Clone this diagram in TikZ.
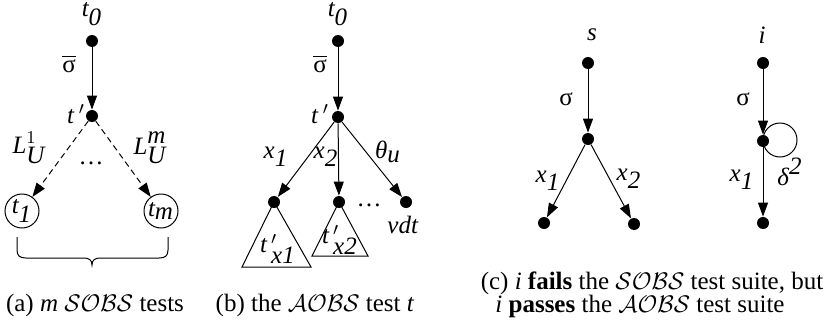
\documentclass[tikz,border=0pt]{standalone}
\usepackage{fontspec}
\setmainfont{Liberation Serif}
\usetikzlibrary{arrows.meta}
\tikzset{
  dot/.style = {circle, fill = black, inner sep = 0pt, minimum size = 6pt},
  state/.style = {circle, draw, line width = 0.5pt, inner sep = 0pt, minimum size = 17pt},
  tr/.style = {-{Triangle[length = 7pt, width = 5pt]}, line width = 0.5pt},
  dsh/.style = {dash pattern = on 3pt off 2pt},
  lab/.style = {inner sep = 0pt},
  captxt/.style = {inner sep = 0pt, font = \fontsize{12.5}{15}\selectfont},
}
\newcommand{\tsub}[2]{$\textit{#1}_{\textit{#2}}$}
\newcommand{\sigbar}{$\overline{\hbox{σ}}$}
\begin{document}
\begin{tikzpicture}[x = 0.5pt, y = -0.5pt, font = \fontsize{12.5}{15}\selectfont]
\useasboundingbox (0,0) rectangle (839,332);
% (a) m SOBS tests
\node [dot] (a0) at (92,41) {};
\node [dot] (a1) at (92,116) {};
\node [state] (t1) at (22,211) {\tsub{t}{1}};
\node [state] (tm) at (161,211) {\tsub{t}{m}};
\node [lab] (a0l) at (92,14) {\tsub{t}{0}};
\node [lab] (a1l) at (76,114) {\textit{t}\,$'$};
\node [lab] (asig) at (69,64) {\sigbar};
\node [lab] (lu1) at (29,148) {$\textit{L}^{1}_{\textit{U}}$};
\node [lab] (lum) at (150,148) {$\textit{L}^{\textit{m}}_{\textit{U}}$};
\node [lab] (adots) at (91,163) {\dots};
\draw [tr] (a0) -- (a1);
\draw [tr, dsh] (a1) -- (t1);
\draw [tr, dsh] (a1) -- (tm);
\draw [line width = 0.5pt] (17,237) -- (17,250) .. controls (17,256) and (20,258) .. (26,258)
  -- (84,258) .. controls (89,258) and (92,260) .. (92,265)
  .. controls (92,260) and (95,258) .. (100,258) -- (159,258)
  .. controls (165,258) and (168,256) .. (168,250) -- (168,237);
\node [captxt] (capa) at (95,305) {(a) \textit{m} $\mathcal{SOBS}$ tests};

% (b) the AOBS test t
\node [dot] (b0) at (338,41) {};
\node [dot] (b1) at (338,117) {};
\node [dot] (b2) at (274,202) {};
\node [dot] (b3) at (339,202) {};
\node [dot] (b4) at (406,202) {};
\node [lab] (b0l) at (338,14) {\tsub{t}{0}};
\node [lab] (b1l) at (320,114) {\textit{t}\,$'$};
\node [lab] (bsig) at (320,64) {\sigbar};
\node [lab] (bx1) at (276,157) {\tsub{x}{1}};
\node [lab] (bx2) at (326,157) {\tsub{x}{2}};
\node [lab] (bth) at (388,152) {\tsub{θ}{u}};
\node [lab] (bvdt) at (403,225) {\textit{vdt}};
\node [lab] (bdots) at (369,205) {\dots};
\draw [tr] (b0) -- (b1);
\foreach \c in {b2,b3,b4}{
\draw [tr] (b1) -- (\c);
}
\draw [line width = 0.5pt] (b2.center) -- (311,267) -- (242,267) -- cycle;
\draw [line width = 0.5pt] (b3.center) -- (368,256) -- (312,256) -- cycle;
\node [lab] (bt1) at (278,249) {$\textit{t}\,'_{\textit{x1}}$};
\node [lab] (bt2) at (340,240) {$\textit{t}\,'_{\textit{x2}}$};
\node [captxt] (capb) at (315,305) {(b) the $\mathcal{AOBS}$ test \textit{t}};

% (c) s and i
\node [dot] (s0) at (588,63) {};
\node [dot] (s1) at (588,139) {};
\node [dot] (s2) at (544,223) {};
\node [dot] (s3) at (634,224) {};
\node [lab] (sl) at (592,35) {\textit{s}};
\node [lab] (ssig) at (566,99) {σ};
\node [lab] (sx1) at (548,181) {\tsub{x}{1}};
\node [lab] (sx2) at (629,179) {\tsub{x}{2}};
\draw [tr] (s0) -- (s1);
\draw [tr] (s1) -- (s2);
\draw [tr] (s1) -- (s3);

\node [dot] (i0) at (763,63) {};
\node [dot] (i1) at (763,141) {};
\node [dot] (i2) at (763,223) {};
\node [lab] (il) at (762,35) {\textit{i}};
\node [lab] (isig) at (743,99) {σ};
\node [lab] (ix1) at (742,180) {\tsub{x}{1}};
\node [lab] (idl) at (790,172) {$\textit{δ}^{\textit{2}}$};
\draw [tr] (i0) -- (i1);
\draw [tr] (i1) -- (i2);
\draw [line width = 0.5pt] ([xshift = 8.5pt, yshift = 0.5pt]i1.center) circle [radius = 8.5pt];
\node [captxt] (capc1) at (652,283) {(c) \textit{i} \textbf{fails} the $\mathcal{SOBS}$ test suite, but};
\node [captxt] (capc2) at (640,306) {\textit{i} \textbf{passes} the $\mathcal{AOBS}$ test suite};
\end{tikzpicture}
\end{document}
